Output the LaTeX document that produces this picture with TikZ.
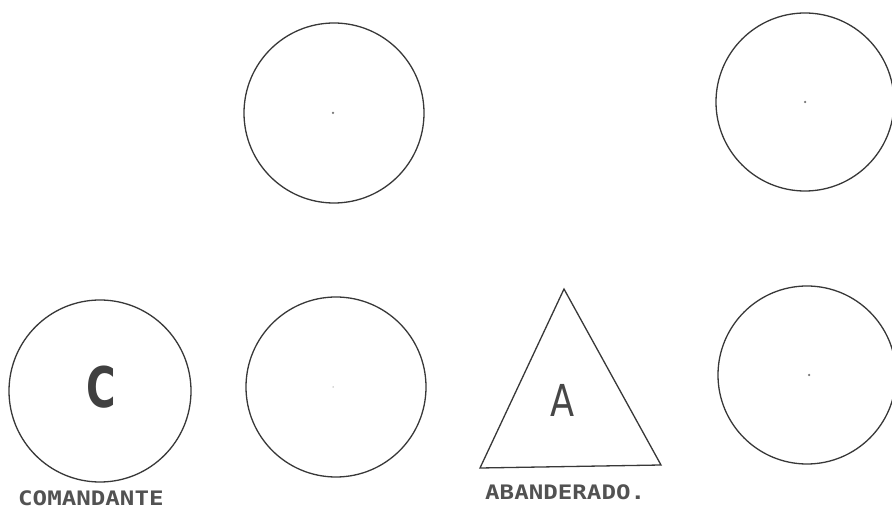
\documentclass[tikz,border=0pt]{standalone}
\usepackage{fontspec}
\setmainfont{DejaVu Sans}
\newfontfamily\labelfont{DejaVu Sans Mono}
\begin{document}
\begin{tikzpicture}[x=1pt,y=-1pt,
  ring/.style={draw=black!78,line width=1.3pt,circle,minimum size=180pt,inner sep=0pt},
  dotmark/.style={fill=black!55,circle,minimum size=2.5pt,inner sep=0pt},
  lbl/.style={text=black!68,font=\labelfont\bfseries\fontsize{21}{21}\selectfont,inner sep=0pt}]
\useasboundingbox[fill=white] (0,0) rectangle (892,510);
% top row
\node[ring] (t1) at (334,113) {};
\node[dotmark] (d1) at (333,113) {};
\node[ring,minimum size=178pt] (t2) at (805,102) {};
\node[dotmark] (d2) at (805,102) {};
% bottom row
\node[ring,minimum size=182pt] (c) at (100,391) {};
\node[text=black!75,inner sep=0pt] (cl) at (101,387) {\scalebox{0.72}[1]{\fontsize{56}{56}\selectfont\bfseries C}};
\node[ring] (b2) at (336,387) {};
\node[dotmark,minimum size=1.5pt,fill=black!30] (d3) at (333,387) {};
\coordinate (apex) at (564,289);
\coordinate (bl) at (480,468);
\coordinate (br) at (661,465);
\draw[draw=black!78,line width=1.3pt,line join=miter] (apex) -- (bl) -- (br) -- cycle;
\node[text=black!72,inner sep=0pt] (al) at (563,400) {\scalebox{0.8}[1]{\fontsize{44}{44}\selectfont A}};
\node[ring,minimum size=178pt] (b4) at (807,375) {};
\node[dotmark] (d4) at (809,375) {};
% labels
\node[lbl,anchor=west] (com) at (18,498) {\scalebox{1.15}[0.95]{COMANDANTE}};
\node[lbl,anchor=west] (aba) at (485,492) {\scalebox{1.15}[0.95]{ABANDERADO.}};
\end{tikzpicture}
\end{document}
